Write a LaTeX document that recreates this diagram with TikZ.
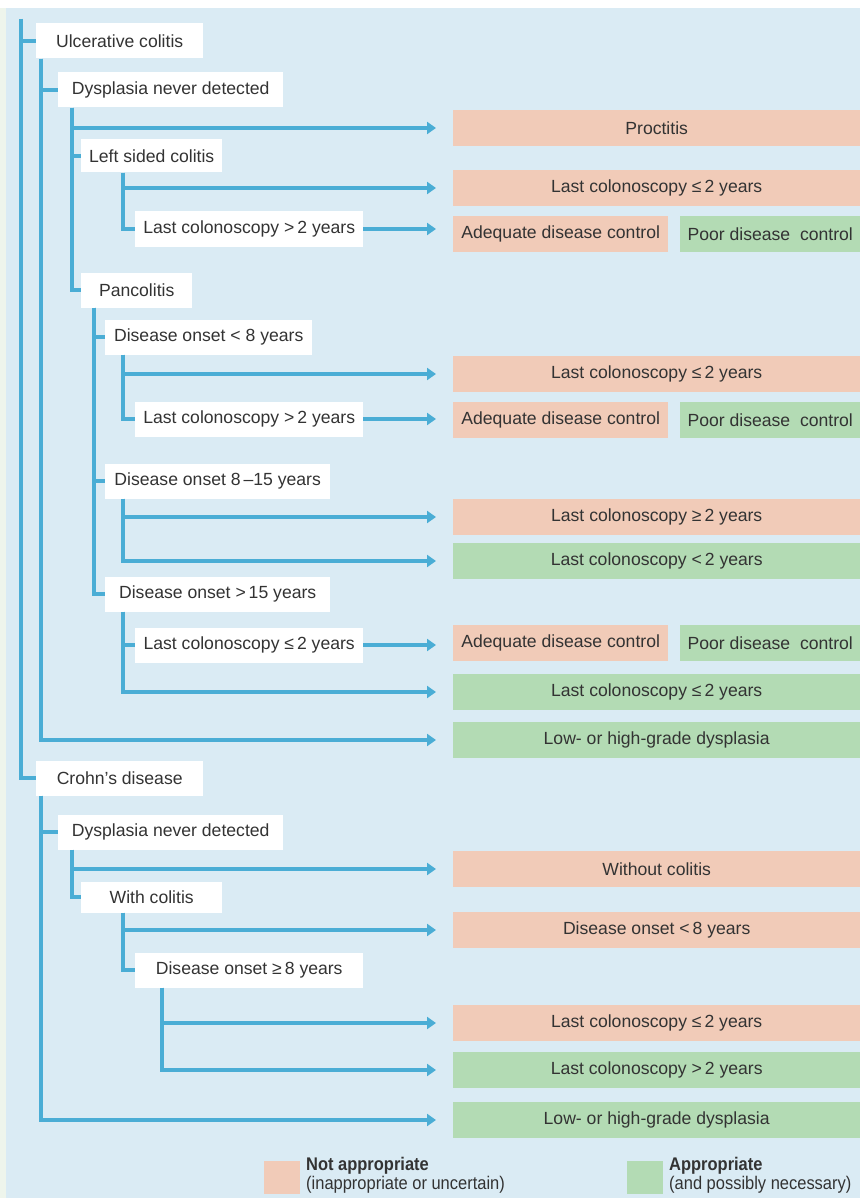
\documentclass[tikz,border=0pt]{standalone}
\usepackage{fontspec}
\setmainfont{Liberation Sans}
\newfontfamily\keyfont[FakeStretch=0.9]{Liberation Sans}
\usetikzlibrary{arrows.meta}
\definecolor{bgblue}{HTML}{DAEBF4}
\definecolor{edgetint}{HTML}{EEF5EC}
\definecolor{lineblue}{HTML}{4AADD5}
\definecolor{notapp}{HTML}{F1CBB8}
\definecolor{app}{HTML}{B3DBB4}
\definecolor{txt}{HTML}{333333}

\begin{document}
\begin{tikzpicture}[x=1pt,y=-1pt,
  every node/.style={font=\fontsize{17.6}{20}\selectfont, text=txt, inner sep=0pt},
  lbl/.style={fill=white, minimum height=35pt, anchor=west},
  res/.style={fill=notapp, minimum height=36pt, minimum width=407pt, anchor=west},
  ok/.style={fill=app, minimum height=36pt, minimum width=407pt, anchor=west},
  conn/.style={draw=lineblue, line width=3.5pt},
  arr/.style={conn, -{Triangle[length=9pt,width=12pt]}},
  keytext/.style={anchor=north west, align=left, font=\keyfont\fontsize{18.3}{19}\selectfont}]
\useasboundingbox (0,0) rectangle (860,1198);
\fill[white] (0,0) rectangle (860,1198);
\fill[edgetint] (0,8) rectangle (6,1198);
\fill[bgblue] (6,8) rectangle (860,1198);

% tree labels
\coordinate (top) at (21,19);
\node[lbl, minimum width=167pt] (uc) at (36,41) {Ulcerative colitis};
\node[lbl, minimum width=225pt] (dnd) at (58,90) {Dysplasia never detected};
\node[lbl, minimum width=141pt, minimum height=33pt] (lsc) at (81,156) {Left sided colitis};
\node[lbl, minimum width=228pt] (lsclc) at (135,229) {Last colonoscopy >\,2 years};
\node[lbl, minimum width=111pt] (pan) at (81,290) {Pancolitis};
\node[lbl, minimum width=207pt] (on8) at (105,337) {Disease onset < 8 years};
\node[lbl, minimum width=228pt] (on8lc) at (135,419) {Last colonoscopy >\,2 years};
\node[lbl, minimum width=225pt] (on815) at (105,481) {Disease onset 8\,–15 years};
\node[lbl, minimum width=225pt] (on15) at (105,594) {Disease onset >\,15 years};
\node[lbl, minimum width=228pt] (on15lc) at (135,645) {Last colonoscopy ≤\,2 years};
\node[lbl, minimum width=167pt] (cd) at (36,778) {Crohn’s disease};
\node[lbl, minimum width=225pt] (cdnd) at (58,832) {Dysplasia never detected};
\node[lbl, minimum width=141pt, minimum height=31pt] (wc) at (81,897) {With colitis};
\node[lbl, minimum width=228pt] (on8b) at (135,970) {Disease onset ≥\,8 years};

% results
\node[res] (proc) at (453,128) {Proctitis};
\node[res] (lsle) at (453,188) {Last colonoscopy ≤\,2 years};
\node[res, minimum width=215pt] (adq1) at (453,234) {Adequate disease control};
\node[ok, minimum width=180pt] (poor1) at (680,234) {Poor disease\ \ control};
\node[res] (ple) at (453,374) {Last colonoscopy ≤\,2 years};
\node[res, minimum width=215pt] (adq2) at (453,420) {Adequate disease control};
\node[ok, minimum width=180pt] (poor2) at (680,420) {Poor disease\ \ control};
\node[res] (pge) at (453,517) {Last colonoscopy ≥\,2 years};
\node[ok] (plt) at (453,561) {Last colonoscopy <\,2 years};
\node[res, minimum width=215pt] (adq3) at (453,643) {Adequate disease control};
\node[ok, minimum width=180pt] (poor3) at (680,643) {Poor disease\ \ control};
\node[ok] (ple2) at (453,692) {Last colonoscopy ≤\,2 years};
\node[ok] (lhg1) at (453,740) {Low- or high-grade dysplasia};
\node[res] (woc) at (453,869) {Without colitis};
\node[res] (dol8) at (453,930) {Disease onset <\,8 years};
\node[res] (cle) at (453,1023) {Last colonoscopy ≤\,2 years};
\node[ok] (cgt) at (453,1070) {Last colonoscopy >\,2 years};
\node[ok] (lhg2) at (453,1120) {Low- or high-grade dysplasia};

% branches
\draw[conn] (top) |- (uc.west);
\draw[conn] (top) |- (cd.west);
\foreach \x/\p/\c in {41/uc/dnd, 72/dnd/lsc, 123/lsc/lsclc, 72/dnd/pan, 94/pan/on8,
  123/on8/on8lc, 94/pan/on815, 94/pan/on15, 123/on15/on15lc,
  41/cd/cdnd, 72/cdnd/wc, 123/wc/on8b}
  \draw[conn] (\x,0 |- \p.south) |- (\c.west);
\foreach \x/\p/\c in {72/dnd/proc, 123/lsc/lsle, 123/on8/ple, 123/on815/pge, 123/on815/plt,
  123/on15/ple2, 41/uc/lhg1, 72/cdnd/woc, 123/wc/dol8, 162/on8b/cle, 162/on8b/cgt, 41/cd/lhg2}
  \draw[arr] (\x,0 |- \p.south) |- ([xshift=-17pt]\c.west);
\foreach \p/\c in {lsclc/adq1, on8lc/adq2, on15lc/adq3}
  \draw[arr] (\p.east) -- ([xshift=-17pt]\p.east -| \c.west);

% legend
\node[fill=notapp, minimum width=36pt, minimum height=33pt, anchor=north west] (kna) at (264,1161) {};
\node[keytext] (knatext) at (306,1157) {\textbf{Not appropriate}\\(inappropriate or uncertain)};
\node[fill=app, minimum width=36pt, minimum height=33pt, anchor=north west] (kap) at (627,1161) {};
\node[keytext] (kaptext) at (669,1157) {\textbf{Appropriate}\\(and possibly necessary)};
\end{tikzpicture}
\end{document}
